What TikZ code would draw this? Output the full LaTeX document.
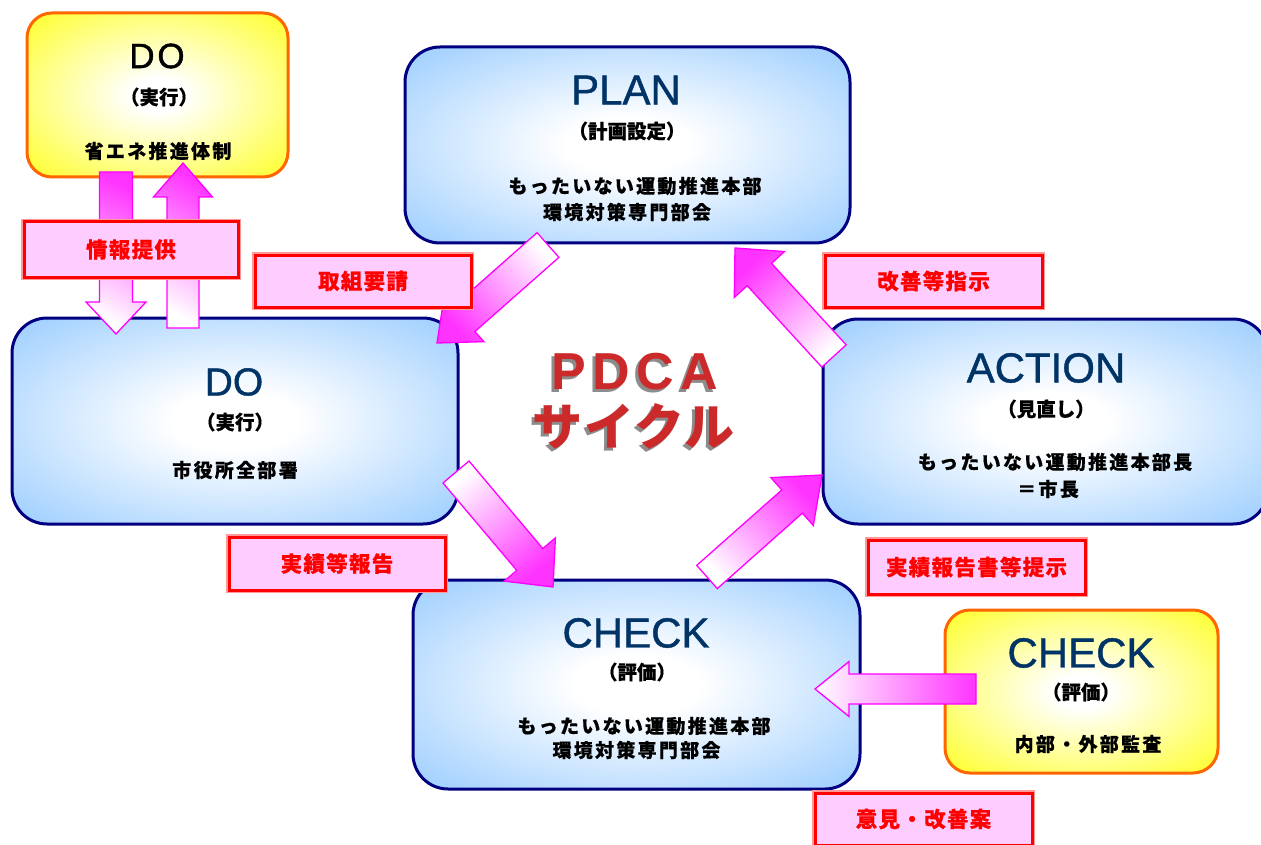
\documentclass[tikz,border=0pt]{standalone}
\usepackage{fontspec}
\setmainfont{Liberation Sans}
\newfontfamily\jp{Noto Sans CJK JP}[BoldFeatures={FakeBold=0.4}]
\newfontfamily\jpw{Noto Sans CJK JP}[LetterSpace=12, BoldFeatures={FakeBold=0.4}]
\newfontfamily\jpl{Noto Sans CJK JP}[LetterSpace=6, BoldFeatures={FakeBold=0.4}]
\newfontfamily\pdcafont{Liberation Sans}[LetterSpace=12]
\newfontfamily\kanafont{Noto Sans CJK JP}[LetterSpace=3]
\newfontfamily\titlefont{Liberation Sans}[FakeBold=1]
\newfontfamily\dofont{Liberation Sans}[LetterSpace=8, FakeBold=1.2]
\usetikzlibrary{calc}

\definecolor{boxblue}{HTML}{99CCFF}
\definecolor{navy}{HTML}{000080}
\definecolor{titleblue}{HTML}{003366}
\definecolor{boxyellow}{HTML}{FFFF33}
\definecolor{boxorange}{HTML}{FF6600}
\definecolor{labelpink}{HTML}{FFCCFF}
\definecolor{labelred}{HTML}{FF0000}
\definecolor{paleRed}{HTML}{FF9999}
\definecolor{arrowmag}{HTML}{FF33FF}
\definecolor{arrowedge}{HTML}{FF00FF}
\definecolor{pdcared}{HTML}{CC2A2A}
\definecolor{shadowgrey}{HTML}{8C8C8C}

\pgfdeclareradialshading{blueglow}{\pgfpointorigin}{color(0bp)=(white); color(7bp)=(white); color(36bp)=(boxblue); color(50bp)=(boxblue)}
\pgfdeclareradialshading{yellowglow}{\pgfpointorigin}{color(0bp)=(white); color(5bp)=(white); color(34bp)=(boxyellow); color(50bp)=(boxyellow)}

\tikzset{
  bluebox/.style={draw=navy, line width=3pt, rounded corners=35pt, shade, shading=blueglow, inner sep=0pt},
  yellowbox/.style={draw=boxorange, line width=3pt, rounded corners=25pt, shade, shading=yellowglow, inner sep=0pt},
  tagbox/.style={draw=labelred, line width=3pt, fill=labelpink, preaction={draw=paleRed, line width=5.5pt},
    inner sep=0pt, text=labelred, font=\jpl\bfseries\fontsize{21.5}{25}\selectfont},
  blockarrowstyle/.style={draw=arrowedge, line width=1.3pt, line join=miter, top color=arrowmag, bottom color=white},
  titletext/.style={inner sep=0pt, text=titleblue, font=\titlefont\fontsize{42}{42}\selectfont},
  parentext/.style={inner sep=0pt, text=black, font=\jp\bfseries\fontsize{19.5}{23}\selectfont},
  bodytext/.style={inner sep=0pt, text=black, font=\jpw\bfseries\fontsize{19}{23}\selectfont},
  pdcatext/.style={inner sep=0pt, font=\pdcafont\bfseries\fontsize{52}{52}\selectfont},
  kanatext/.style={inner sep=0pt, font=\kanafont\bfseries\fontsize{50}{50}\selectfont}
}

% #1 tail, #2 tip, #3 half shaft width, #4 half head width, #5 head length, #6 shading angle
\newcommand\blockarrow[6]{%
  \coordinate (#1-hb) at ($(#2)!#5!(#1)$);
  \path[blockarrowstyle, shading angle=#6]
    ($(#1)!#3!90:(#2)$) -- ($(#1-hb)!#3!90:(#2)$) -- ($(#1-hb)!#4!90:(#2)$) -- (#2)
    -- ($(#1-hb)!#4!-90:(#2)$) -- ($(#1-hb)!#3!-90:(#2)$) -- ($(#1)!#3!-90:(#2)$) -- cycle;
}
% shadowed title text in one box
\newcommand\shadowed[1]{\makebox[0pt][l]{\hspace{-3pt}\raisebox{-3pt}{\textcolor{shadowgrey}{#1}}}\textcolor{pdcared}{#1}}

\begin{document}
\begin{tikzpicture}[x=1pt, y=-1pt]
\clip (0,0) rectangle (1261,845);
\fill[white] (0,0) rectangle (1261,845);

% boxes
\node[yellowbox, minimum width=261, minimum height=164] (doY) at (157.5,95) {};
\node[bluebox, minimum width=445, minimum height=196] (plan) at (627.5,145) {};
\node[bluebox, minimum width=446, minimum height=206] (doMain) at (235,421) {};
\node[bluebox, minimum width=445, minimum height=205] (action) at (1045.5,421.5) {};
\node[bluebox, minimum width=447, minimum height=209] (checkMain) at (636.5,684.5) {};
\node[yellowbox, minimum width=273, minimum height=163] (checkY) at (1081.5,691.5) {};

% arrow end points
\coordinate (infoDownT) at (116,172);  \coordinate (infoDownP) at (116,334);
\coordinate (infoUpT) at (183,328);    \coordinate (infoUpP) at (183,163);
\coordinate (planDoT) at (548,245);    \coordinate (planDoP) at (437,343);
\coordinate (actPlanT) at (834,356);   \coordinate (actPlanP) at (735,248);
\coordinate (doCheckT) at (456,472);   \coordinate (doCheckP) at (553,587);
\coordinate (checkActT) at (707,577);  \coordinate (checkActP) at (822,475);
\coordinate (auditT) at (976,689);     \coordinate (auditP) at (815,689);

\blockarrow{infoDownT}{infoDownP}{16.5pt}{30pt}{32pt}{-30}
\blockarrow{infoUpT}{infoUpP}{16pt}{29.5pt}{34pt}{-30}
\blockarrow{planDoT}{planDoP}{16.5pt}{30pt}{36pt}{131}
\blockarrow{actPlanT}{actPlanP}{16.5pt}{34pt}{36pt}{42}
\blockarrow{doCheckT}{doCheckP}{17pt}{33.5pt}{36pt}{-140}
\blockarrow{checkActT}{checkActP}{15.5pt}{32pt}{40pt}{-48}
\blockarrow{auditT}{auditP}{15pt}{27.5pt}{34pt}{-90}

% texts: DO (yellow)
\node[inner sep=0pt, text=black, font=\dofont\fontsize{35}{35}\selectfont] (doYt) at (157,56) {DO};
\node[parentext] (doYp) at (159,97) {（実行）};
\node[bodytext] (doYb) at (158,151) {省エネ推進体制};

% PLAN
\node[titletext] (plant) at (626,90) {PLAN};
\node[parentext] (planp) at (627,131) {（計画設定）};
\node[bodytext] (planb1) at (635,186) {もったいない運動推進本部};
\node[bodytext] (planb2) at (627,212) {環境対策専門部会};

% DO main
\node[titletext, font=\titlefont\fontsize{39}{39}\selectfont] (doMt) at (234,382) {DO};
\node[parentext] (doMp) at (235,422) {（実行）};
\node[bodytext] (doMb) at (235,470) {市役所全部署};

% ACTION
\node[titletext] (actt) at (1046,368) {ACTION};
\node[parentext] (actp) at (1046,409) {（見直し）};
\node[bodytext] (actb1) at (1055,462) {もったいない運動推進本部長};
\node[bodytext] (actb2) at (1048,489) {＝市長};

% CHECK main
\node[titletext] (chkt) at (636,633) {CHECK};
\node[parentext] (chkp) at (637,672) {（評価）};
\node[bodytext] (chkb1) at (644,726) {もったいない運動推進本部};
\node[bodytext] (chkb2) at (636.5,750) {環境対策専門部会};

% CHECK yellow
\node[titletext] (chkYt) at (1081,653) {CHECK};
\node[parentext] (chkYp) at (1081,692) {（評価）};
\node[bodytext] (chkYb) at (1088,744) {内部・外部監査};

% PDCA cycle title
\node[pdcatext] (pdca) at (635,373) {\shadowed{PDCA}};
\node[kanatext] (cycle) at (633.5,427.5) {\shadowed{サイクル}};

% labels
\node[tagbox, minimum width=214, minimum height=55] (lblInfo) at (131,249.5) {情報提供};
\node[tagbox, minimum width=216, minimum height=52] (lblReq) at (363,281) {取組要請};
\node[tagbox, minimum width=217, minimum height=52] (lblImp) at (933.5,281) {改善等指示};
\node[tagbox, minimum width=216, minimum height=53] (lblRep) at (337,563.5) {実績等報告};
\node[tagbox, minimum width=217, minimum height=54] (lblPres) at (976.5,567) {実績報告書等提示};
\node[tagbox, minimum width=217, minimum height=52] (lblOpin) at (923.5,819) {意見・改善案};
\end{tikzpicture}
\end{document}
